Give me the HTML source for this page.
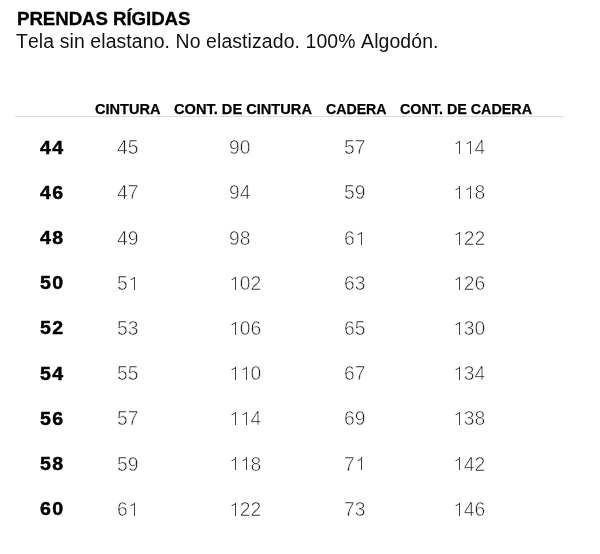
<!DOCTYPE html>
<html><head><meta charset="utf-8"><style>
*{margin:0;padding:0}
html,body{width:600px;height:554px;background:#fff;overflow:hidden}
body{position:relative;will-change:transform;font-family:"Liberation Sans",sans-serif;color:#111}
.a{position:absolute;white-space:nowrap;line-height:1;transform-origin:0 0}
.t{font-weight:700;font-size:18.7px;left:17px;top:10px;letter-spacing:-0.07px;color:#000;-webkit-text-stroke:0.3px #000}
.s{font-size:19.4px;left:16px;top:32px;letter-spacing:0.115px;color:#111;font-kerning:none}
.h{font-weight:700;font-size:15px;top:100.5px;color:#000;-webkit-text-stroke:0.25px #000}
.r{position:absolute;left:15px;width:549px;top:116px;height:1px;background:#dcdcdc}
.z{font-weight:700;font-size:19px;letter-spacing:1.3px;color:#000;-webkit-text-stroke:0.45px #000;transform:scaleX(1.03)}
.o{position:relative;color:transparent;-webkit-text-stroke-color:transparent}
.o::before{content:"";position:absolute;left:6.0px;bottom:4.1px;width:1.0px;height:13.0px;background:#404040}
.o::after{content:"";position:absolute;left:1.8px;bottom:15.9px;width:4.8px;height:1.0px;background:#404040;transform:rotate(-30deg);transform-origin:100% 50%}
.n{font-size:19.3px;color:#222;-webkit-text-stroke:0.55px #fff}
</style></head>
<body>
<div class="a t">PRENDAS RÍGIDAS</div>
<div class="a s">Tela sin elastano. No elastizado. 100% Algodón.</div>
<div class="a h" style="left:95px;transform:scaleX(0.9705)">CINTURA</div>
<div class="a h" style="left:173.7px;transform:scaleX(0.9736)">CONT. DE CINTURA</div>
<div class="a h" style="left:325.5px;transform:scaleX(0.9429)">CADERA</div>
<div class="a h" style="left:400.3px;transform:scaleX(0.9540)">CONT. DE CADERA</div>
<div class="r"></div>
<div class="a z" style="left:39.5px;top:137.70px">44</div>
<div class="a n" style="left:117px;top:138.30px">45</div>
<div class="a n" style="left:229px;top:138.30px">90</div>
<div class="a n" style="left:344px;top:138.30px">57</div>
<div class="a n" style="left:453px;top:138.30px"><span class="o">1</span><span class="o">1</span>4</div>
<div class="a z" style="left:39.5px;top:182.88px">46</div>
<div class="a n" style="left:117px;top:183.48px">47</div>
<div class="a n" style="left:229px;top:183.48px">94</div>
<div class="a n" style="left:344px;top:183.48px">59</div>
<div class="a n" style="left:453px;top:183.48px"><span class="o">1</span><span class="o">1</span>8</div>
<div class="a z" style="left:39.5px;top:228.06px">48</div>
<div class="a n" style="left:117px;top:228.66px">49</div>
<div class="a n" style="left:229px;top:228.66px">98</div>
<div class="a n" style="left:344px;top:228.66px">6<span class="o">1</span></div>
<div class="a n" style="left:453px;top:228.66px"><span class="o">1</span>22</div>
<div class="a z" style="left:39.5px;top:273.24px">50</div>
<div class="a n" style="left:117px;top:273.84px">5<span class="o">1</span></div>
<div class="a n" style="left:229px;top:273.84px"><span class="o">1</span>02</div>
<div class="a n" style="left:344px;top:273.84px">63</div>
<div class="a n" style="left:453px;top:273.84px"><span class="o">1</span>26</div>
<div class="a z" style="left:39.5px;top:318.42px">52</div>
<div class="a n" style="left:117px;top:319.02px">53</div>
<div class="a n" style="left:229px;top:319.02px"><span class="o">1</span>06</div>
<div class="a n" style="left:344px;top:319.02px">65</div>
<div class="a n" style="left:453px;top:319.02px"><span class="o">1</span>30</div>
<div class="a z" style="left:39.5px;top:363.60px">54</div>
<div class="a n" style="left:117px;top:364.20px">55</div>
<div class="a n" style="left:229px;top:364.20px"><span class="o">1</span><span class="o">1</span>0</div>
<div class="a n" style="left:344px;top:364.20px">67</div>
<div class="a n" style="left:453px;top:364.20px"><span class="o">1</span>34</div>
<div class="a z" style="left:39.5px;top:408.78px">56</div>
<div class="a n" style="left:117px;top:409.38px">57</div>
<div class="a n" style="left:229px;top:409.38px"><span class="o">1</span><span class="o">1</span>4</div>
<div class="a n" style="left:344px;top:409.38px">69</div>
<div class="a n" style="left:453px;top:409.38px"><span class="o">1</span>38</div>
<div class="a z" style="left:39.5px;top:453.96px">58</div>
<div class="a n" style="left:117px;top:454.56px">59</div>
<div class="a n" style="left:229px;top:454.56px"><span class="o">1</span><span class="o">1</span>8</div>
<div class="a n" style="left:344px;top:454.56px">7<span class="o">1</span></div>
<div class="a n" style="left:453px;top:454.56px"><span class="o">1</span>42</div>
<div class="a z" style="left:39.5px;top:499.14px">60</div>
<div class="a n" style="left:117px;top:499.74px">6<span class="o">1</span></div>
<div class="a n" style="left:229px;top:499.74px"><span class="o">1</span>22</div>
<div class="a n" style="left:344px;top:499.74px">73</div>
<div class="a n" style="left:453px;top:499.74px"><span class="o">1</span>46</div>
</body></html>
